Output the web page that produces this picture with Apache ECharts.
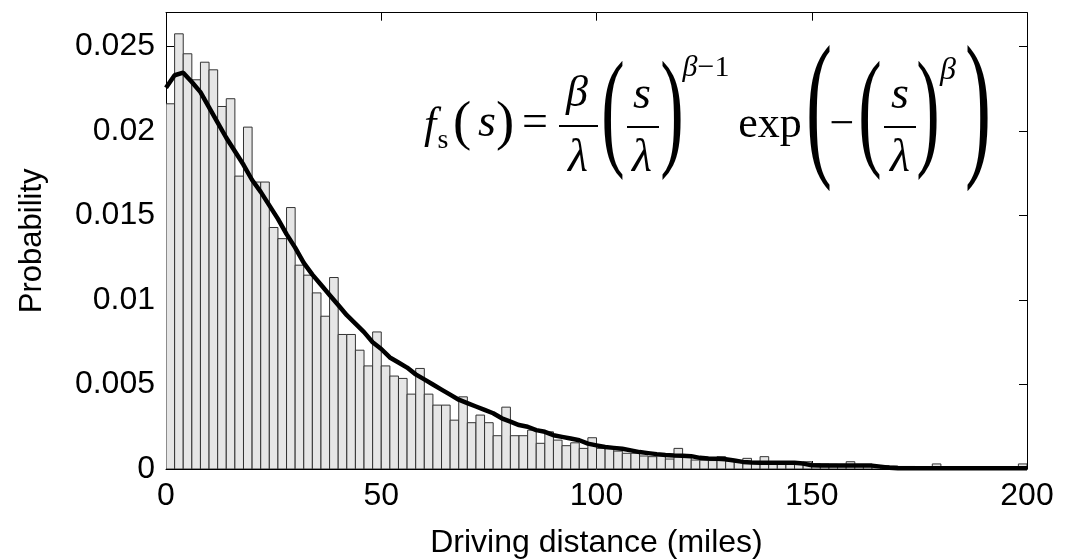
<!DOCTYPE html>
<html>
<head>
<meta charset="utf-8">
<script src="https://cdn.jsdelivr.net/npm/echarts@6/dist/echarts.min.js"></script>
<style>html,body{margin:0;padding:0;background:#fff}#c{width:1072px;height:560px}</style>
</head>
<body>
<div id="c"></div>
<script>
// Histogram: probability per 2-mile bin, bins 0-2, 2-4, ..., 198-200
const binWidth = 2;
const binProb = [
  0.02161, 0.02575, 0.02457, 0.02303, 0.02407, 0.02362, 0.02145, 0.02191, 0.01733, 0.02023,
  0.01698, 0.01698, 0.01429, 0.01363, 0.01547, 0.01206, 0.01147, 0.01042, 0.00904, 0.01133,
  0.00796, 0.00796, 0.00703, 0.00610, 0.00811, 0.00610, 0.00550, 0.00536, 0.00443, 0.00595,
  0.00443, 0.00378, 0.00378, 0.00289, 0.00427, 0.00274, 0.00319, 0.00274, 0.00197, 0.00366,
  0.00197, 0.00197, 0.00230, 0.00152, 0.00220, 0.00171, 0.00138, 0.00155, 0.00122, 0.00185,
  0.00122, 0.00122, 0.00106, 0.00093, 0.00093, 0.00077, 0.00073, 0.00077, 0.00059, 0.00122,
  0.00069, 0.00053, 0.00052, 0.00050, 0.00073, 0.00047, 0.00047, 0.00063, 0.00045, 0.00073,
  0.00042, 0.00040, 0.00038, 0.00036, 0.00043, 0.00032, 0.00030, 0.00028, 0.00027, 0.00043,
  0.00025, 0.00022, 0.00020, 0.00020, 0.00018, 0.00015, 0.00015, 0.00013, 0.00012, 0.00030,
  0.00012, 0.00010, 0.00010, 0.00009, 0.00008, 0.00008, 0.00007, 0.00007, 0.00006, 0.00030
];
// Fitted density curve, sampled every 2 miles from 0 to 200
const curveStep = 2;
const curveProb = [
  0.02256, 0.02330, 0.02345, 0.02290, 0.02230, 0.02140, 0.02050, 0.01960, 0.01880, 0.01800,
  0.01710, 0.01640, 0.01560, 0.01480, 0.01390, 0.01310, 0.01220, 0.01150, 0.01090, 0.01030,
  0.00970, 0.00910, 0.00860, 0.00810, 0.00750, 0.00710, 0.00660, 0.00630, 0.00600, 0.00560,
  0.00530, 0.00500, 0.00470, 0.00440, 0.00410, 0.00390, 0.00370, 0.00350, 0.00330, 0.00300,
  0.00280, 0.00260, 0.00250, 0.00230, 0.00220, 0.00200, 0.00190, 0.00180, 0.00170, 0.00150,
  0.00140, 0.00130, 0.00125, 0.00120, 0.00110, 0.00100, 0.00094, 0.00088, 0.00083, 0.00080,
  0.00078, 0.00076, 0.00066, 0.00062, 0.00060, 0.00058, 0.00050, 0.00042, 0.00038, 0.00037,
  0.00037, 0.00037, 0.00037, 0.00037, 0.00032, 0.00022, 0.00020, 0.00020, 0.00020, 0.00020,
  0.00020, 0.00020, 0.00020, 0.00014, 0.00007, 0.00004, 0.00004, 0.00004, 0.00004, 0.00004,
  0.00004, 0.00004, 0.00004, 0.00004, 0.00004, 0.00004, 0.00004, 0.00004, 0.00004, 0.00004,
  0.00004
];
const xTicks = [0, 50, 100, 150, 200];
const yTickLabels = ['0', '0.005', '0.01', '0.015', '0.02', '0.025'];
const xName = 'Driving distance (miles)';
const yName = 'Probability';

const barData = binProb.map((p, i) => [i * binWidth, (i + 1) * binWidth, p]);
const curveData = curveProb.map((p, i) => [i * curveStep, p]);

const SANS = 'Liberation Sans, Arial, Helvetica, sans-serif';
const SERIF = 'Liberation Serif, Times New Roman, serif';

function T(str, cx, baseline, F, italic, extra) {
  return Object.assign({
    type: 'text', x: cx, y: baseline - 0.34 * F, z: 100,
    style: { text: str, font: (italic ? 'italic ' : '') + F + 'px ' + SERIF,
      fill: '#000', align: 'center', verticalAlign: 'middle' }
  }, extra || {});
}
function P(ch, cx, yc, height, width) {
  const F = width / 0.256;
  const sy = height / (0.871 * F);
  return {
    type: 'text', x: cx, y: yc - 0.079 * F * sy, z: 100,
    scaleY: sy,
    style: { text: ch, font: F + 'px ' + SERIF, fill: '#000', align: 'center', verticalAlign: 'middle' }
  };
}
function L(x1, x2, y) {
  return { type: 'line', z: 100, shape: { x1: x1, y1: y, x2: x2, y2: y }, style: { stroke: '#000', lineWidth: 2 } };
}

const formula = [
  T('f', 430, 141, 44, true),
  T('s', 443, 150, 28, false),
  P('(', 462, 129, 48, 14),
  T('s', 487, 140, 46, true),
  P(')', 505, 129, 48, 14),
  T('=', 535, 140, 46, false),
  T('\u03B2', 577, 109, 44, true),
  L(559, 598, 126),
  T('\u03BB', 578, 175, 46, true),
  P('(', 613, 127.5, 115, 18),
  T('s', 642, 112, 46, true),
  L(627, 659, 127),
  T('\u03BB', 642, 175, 46, true),
  P(')', 672, 127.5, 115, 18),
  {
    type: 'text', x: 706, y: 78 - 0.34 * 30, z: 100,
    style: { text: '{b|\u03B2}{r|\u22121}', align: 'center', verticalAlign: 'middle',
      rich: { b: { font: 'italic 30px ' + SERIF, fill: '#000' }, r: { font: '30px ' + SERIF, fill: '#000' } } }
  },
  T('exp', 770, 140, 44, false),
  P('(', 819, 127, 140, 20),
  T('\u2212', 842, 140, 44, false),
  P('(', 870, 127.5, 115, 18),
  T('s', 900, 112, 46, true),
  L(884, 916, 127),
  T('\u03BB', 900, 175, 46, true),
  P(')', 928, 127.5, 115, 18),
  T('\u03B2', 948, 81, 32, true),
  P(')', 978, 127, 140, 20)
];

const chart = echarts.init(document.getElementById('c'), null, { renderer: 'canvas' });
const axisCommonX = {
  type: 'value', min: 0, max: 200, interval: 50,
  splitLine: { show: false },
  axisLine: { show: true, onZero: false, lineStyle: { color: '#000', width: 1 } },
  axisTick: { show: true, inside: true, length: 8, lineStyle: { color: '#000', width: 1 } }
};
const axisCommonY = {
  type: 'value', min: 0, max: 0.027, interval: 0.005,
  splitLine: { show: false },
  axisLine: { show: true, onZero: false, lineStyle: { color: '#000', width: 1 } },
  axisTick: { show: true, inside: true, length: 8, lineStyle: { color: '#000', width: 1 } }
};
function yLabel(v) {
  const k = Math.round(v / 0.005);
  if (Math.abs(v - k * 0.005) > 1e-9) return '';
  return yTickLabels[k] || '';
}
chart.setOption({
  animation: false,
  backgroundColor: '#fff',
  grid: { left: 166, right: 45, top: 12.7, bottom: 91, show: false, containLabel: false, outerBoundsMode: 'none' },
  xAxis: [
    Object.assign({}, axisCommonX, {
      position: 'bottom',
      axisLabel: { show: true, fontSize: 32, fontFamily: SANS, color: '#000', margin: 11,
        formatter: v => (xTicks.indexOf(v) >= 0 ? String(v) : '') },
      name: xName, nameLocation: 'middle', nameGap: 58,
      nameTextStyle: { fontSize: 32, fontFamily: SANS, color: '#000' }
    }),
    Object.assign({}, axisCommonX, { position: 'top', axisLabel: { show: false } })
  ],
  yAxis: [
    Object.assign({}, axisCommonY, {
      position: 'left',
      axisLabel: { show: true, fontSize: 32, fontFamily: SANS, color: '#000', margin: 11, formatter: yLabel },
      name: yName, nameLocation: 'middle', nameGap: 118, nameRotate: 90,
      nameTextStyle: { fontSize: 31, fontFamily: SANS, color: '#000' }
    }),
    Object.assign({}, axisCommonY, { position: 'right', axisLabel: { show: false } })
  ],
  series: [
    {
      type: 'custom', xAxisIndex: 0, yAxisIndex: 0, clip: true, z: 2,
      data: barData,
      encode: { x: [0, 1], y: 2 },
      renderItem: function (params, api) {
        const p0 = api.coord([api.value(0), api.value(2)]);
        const p1 = api.coord([api.value(1), 0]);
        return {
          type: 'rect',
          shape: { x: p0[0], y: p0[1], width: p1[0] - p0[0], height: p1[1] - p0[1] },
          style: { fill: '#e6e6e6', stroke: '#333', lineWidth: 1 }
        };
      }
    },
    {
      type: 'line', xAxisIndex: 0, yAxisIndex: 0, z: 5,
      data: curveData, showSymbol: false, smooth: false,
      lineStyle: { color: '#000', width: 4.5 }
    }
  ],
  graphic: formula
});
</script>
</body>
</html>
